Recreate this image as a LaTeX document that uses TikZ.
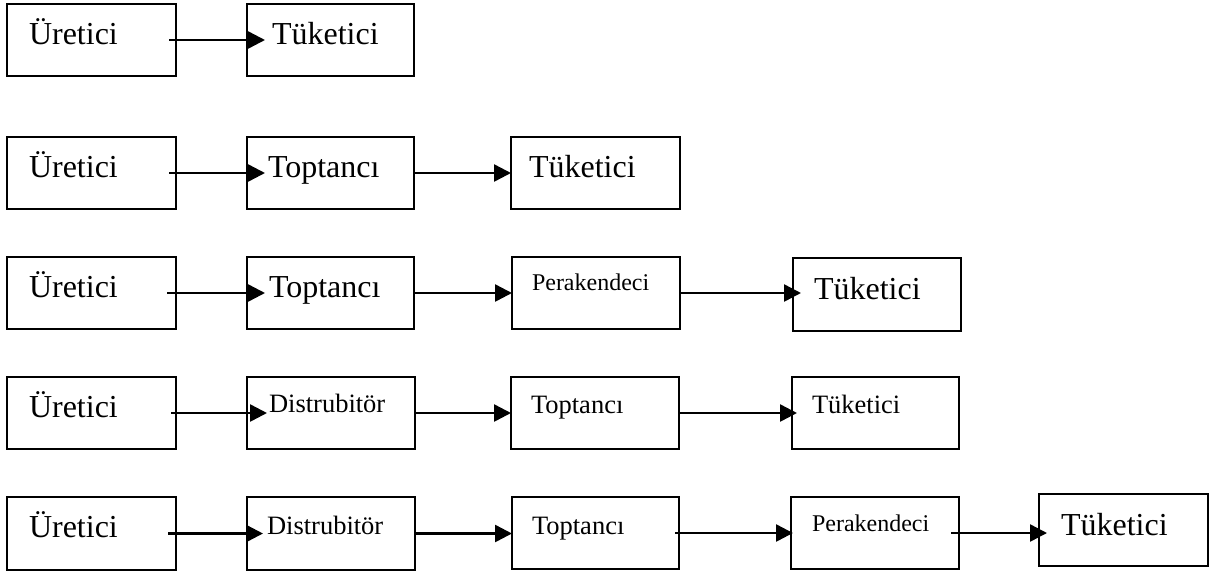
\documentclass[tikz,border=0pt]{standalone}
\usepackage{fontspec}
\setmainfont{Liberation Serif}
\usetikzlibrary{arrows.meta}

\tikzset{
  box/.style={draw, line width=2pt, inner sep=0pt, outer sep=0pt},
  lbl/.style={anchor=base west, inner sep=0pt, outer sep=0pt},
  big/.style={lbl, font=\fontsize{32}{36}\selectfont},
  mid/.style={lbl, font=\fontsize{26.5}{30}\selectfont},
  sml/.style={lbl, font=\fontsize{24}{28}\selectfont},
  arr/.style={line width=2.5pt, -{Triangle[length=17pt,width=17pt]}},
}

\begin{document}
\begin{tikzpicture}[x=1pt,y=-1pt]
\useasboundingbox (0,0) rectangle (1218,574);

% ---- chain 1: producer -> consumer
\node[box, minimum width=169pt, minimum height=72pt] (r1a) at (91.5,40) {};
\node[box, minimum width=167pt, minimum height=72pt] (r1b) at (330.5,40) {};
\node[big] (t1a) at (29,44) {Üretici};
\node[big] (t1b) at (272,44) {Tüketici};
\draw[arr] ([xshift=-7pt]r1a.east) -- ([xshift=18pt]r1b.west |- r1a.east);

% ---- chain 2: producer -> wholesaler -> consumer
\node[box, minimum width=169pt, minimum height=72pt] (r2a) at (91.5,173) {};
\node[box, minimum width=167pt, minimum height=72pt] (r2b) at (330.5,173) {};
\node[box, minimum width=169pt, minimum height=72pt] (r2c) at (595.5,173) {};
\node[big] (t2a) at (29,177) {Üretici};
\node[big] (t2b) at (268,177) {Toptancı};
\node[big] (t2c) at (529,177) {Tüketici};
\draw[arr] ([xshift=-7pt]r2a.east) -- ([xshift=18pt]r2b.west |- r2a.east);
\draw[arr] (r2b.east) -- (r2c.west |- r2b.east);

% ---- chain 3: producer -> wholesaler -> retailer -> consumer
\node[box, minimum width=169pt, minimum height=72pt] (r3a) at (91.5,293) {};
\node[box, minimum width=167pt, minimum height=72pt] (r3b) at (330.5,293) {};
\node[box, minimum width=168pt, minimum height=72pt] (r3c) at (596,293) {};
\node[box, minimum width=168pt, minimum height=73pt] (r3d) at (877,294.5) {};
\node[big] (t3a) at (29,297) {Üretici};
\node[big] (t3b) at (269,297) {Toptancı};
\node[sml] (t3c) at (532,290) {Perakendeci};
\node[big] (t3d) at (814,299) {Tüketici};
\draw[arr] ([xshift=-9pt]r3a.east) -- ([xshift=18pt]r3b.west |- r3a.east);
\draw[arr] (r3b.east) -- (r3c.west |- r3b.east);
\draw[arr] (r3c.east) -- ([xshift=8pt]r3d.west |- r3c.east);

% ---- chain 4: producer -> distributor -> wholesaler -> consumer
\node[box, minimum width=169pt, minimum height=72pt] (r4a) at (91.5,413) {};
\node[box, minimum width=168pt, minimum height=72pt] (r4b) at (331,413) {};
\node[box, minimum width=168pt, minimum height=72pt] (r4c) at (595,413) {};
\node[box, minimum width=167pt, minimum height=72pt] (r4d) at (875.5,413) {};
\node[big] (t4a) at (29,417) {Üretici};
\node[mid] (t4b) at (269,412) {Distrubitör};
\node[mid] (t4c) at (531,413) {Toptancı};
\node[mid] (t4d) at (812,413) {Tüketici};
\draw[arr] ([xshift=-5pt]r4a.east) -- ([xshift=20pt]r4b.west |- r4a.east);
\draw[arr] (r4b.east) -- (r4c.west |- r4b.east);
\draw[arr] (r4c.east) -- ([xshift=5pt]r4d.west |- r4c.east);

% ---- chain 5: producer -> distributor -> wholesaler -> retailer -> consumer
\node[box, minimum width=169pt, minimum height=73pt] (r5a) at (91.5,533.5) {};
\node[box, minimum width=168pt, minimum height=73pt] (r5b) at (331,533.5) {};
\node[box, minimum width=167pt, minimum height=72pt] (r5c) at (595.5,533) {};
\node[box, minimum width=168pt, minimum height=72pt] (r5d) at (875,533) {};
\node[box, minimum width=169pt, minimum height=72pt] (r5e) at (1123.5,530) {};
\node[big] (t5a) at (29,537) {Üretici};
\node[mid] (t5b) at (267,534) {Distrubitör};
\node[mid] (t5c) at (532,534) {Toptancı};
\node[sml] (t5d) at (812,531) {Perakendeci};
\node[big] (t5e) at (1061,535) {Tüketici};
\draw[arr] ([xshift=-8pt]r5a.east) -- ([xshift=16pt]r5b.west |- r5a.east);
\draw[arr] (r5b.east) -- (r5c.west |- r5b.east);
\draw[arr] ([xshift=-4pt]r5c.east) -- ([xshift=2pt]r5d.west |- r5c.east);
\draw[arr] ([xshift=-8pt]r5d.east) -- ([xshift=8pt]r5e.west |- r5d.east);
\end{tikzpicture}
\end{document}
